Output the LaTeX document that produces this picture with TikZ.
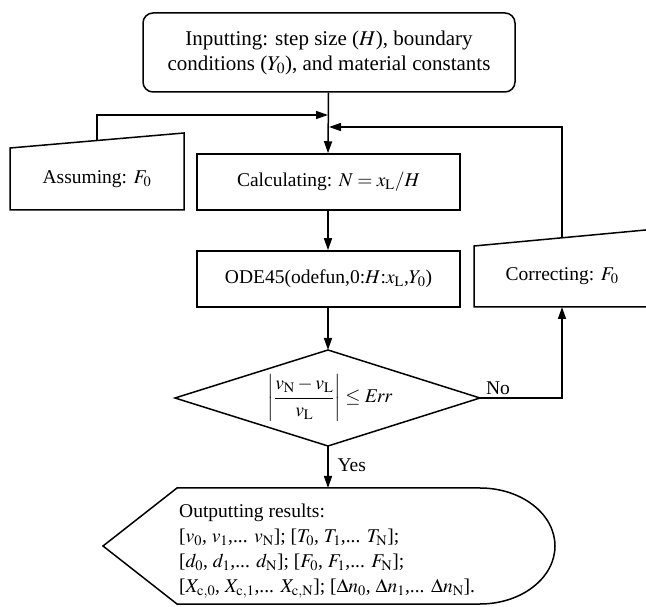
\documentclass[tikz,border=0pt]{standalone}
\usepackage{mathptmx}
\usepackage[no-math]{fontspec}
\setmainfont{Liberation Serif}
\usetikzlibrary{arrows.meta}
\begin{document}
\begin{tikzpicture}[x=1pt,y=1pt,
  every node/.style={font=\fontsize{19.5}{25}\selectfont},
  box/.style={draw,line width=1.5pt,inner sep=0pt},
  shp/.style={draw,line width=1.5pt,line join=miter},
  arr/.style={line width=1.5pt,-{Triangle[length=12pt,width=8pt]}}]
\useasboundingbox (0,0) rectangle (646,606);
\clip (0,0) rectangle (646,606);
% top box
\node[box,rounded corners=10pt,minimum width=372pt,minimum height=79pt,align=center,
      font=\fontsize{21}{25}\selectfont] (inp) at (329,553.5)
  {Inputting: step size ($H$), boundary\\conditions ($Y_0$), and material constants};
% calc box
\node[box,minimum width=263pt,minimum height=56pt] (calc) at (328.5,424)
  {Calculating: $N = x_{\mathrm{L}}/H$};
% ODE box
\node[box,minimum width=263pt,minimum height=56pt] (ode) at (328.5,327)
  {ODE45(odefun,0:$H$:$x_{\mathrm{L}}$,$Y_0$)};
% assuming trapezoid
\draw[shp] (10,396) -- (10,458) -- (184,473) -- (184,396) -- cycle;
\node (assm) at (97,427) {Assuming: $F_0$};
\coordinate (assmtop) at (97,465.5);
% correcting trapezoid
\draw[shp] (474,299) -- (474,360) -- (650,376.4) -- (650,299) -- cycle;
\node (corr) at (562,330) {Correcting: $F_0$};
\coordinate (corrtop) at (562,368.2);
\coordinate (corrbot) at (562,299);
% diamond
\coordinate (dtop) at (328,256);
\coordinate (dbot) at (328,160);
\coordinate (dleft) at (175,208);
\coordinate (dright) at (480,208);
\draw[shp] (dtop) -- (dright) -- (dbot) -- (dleft) -- cycle;
\node (cond) at (330,208) {$\displaystyle\left|\frac{v_{\mathrm{N}}-v_{\mathrm{L}}}{v_{\mathrm{L}}}\right| \le \mathit{Err}$};
% output shape
\coordinate (otop) at (328,118);
\draw[shp] (177,118) -- (480,118)
  .. controls (521.4,118) and (555,92) .. (555,60)
  .. controls (555,28) and (521.4,2) .. (480,2)
  -- (177,2) -- (103,60) -- cycle;
\node[anchor=west,align=left,inner sep=0pt] (out) at (179,55)
  {Outputting results:\\
   {[}$v_0$, $v_1$,... $v_{\mathrm{N}}$]; [$T_0$, $T_1$,... $T_{\mathrm{N}}$];\\
   {[}$d_0$, $d_1$,... $d_{\mathrm{N}}$]; [$F_0$, $F_1$,... $F_{\mathrm{N}}$];\\
   {[}$X_{\mathrm{c},0}$, $X_{\mathrm{c},1}$,... $X_{\mathrm{c},\mathrm{N}}$]; [$\Delta n_0$, $\Delta n_1$,... $\Delta n_{\mathrm{N}}$].};
% connectors
\coordinate (j1) at (328,491);
\coordinate (j2) at (328,479);
\draw[arr] (inp.south -| calc.north) -- (calc.north -| 328,0);
\draw[arr] (assmtop) |- (j1);
\draw[arr] (corrtop) |- ([xshift=1pt]j2);
\draw[arr] (calc.south -| 328,0) -- (ode.north -| 328,0);
\draw[arr] (ode.south -| 328,0) -- (dtop);
\draw[arr] (dright) -| (corrbot);
\draw[arr] (dbot) -- (otop);
\node[anchor=south] (no) at (498,208) {No};
\node[anchor=west] (yes) at (334,141) {Yes};
\end{tikzpicture}
\end{document}
